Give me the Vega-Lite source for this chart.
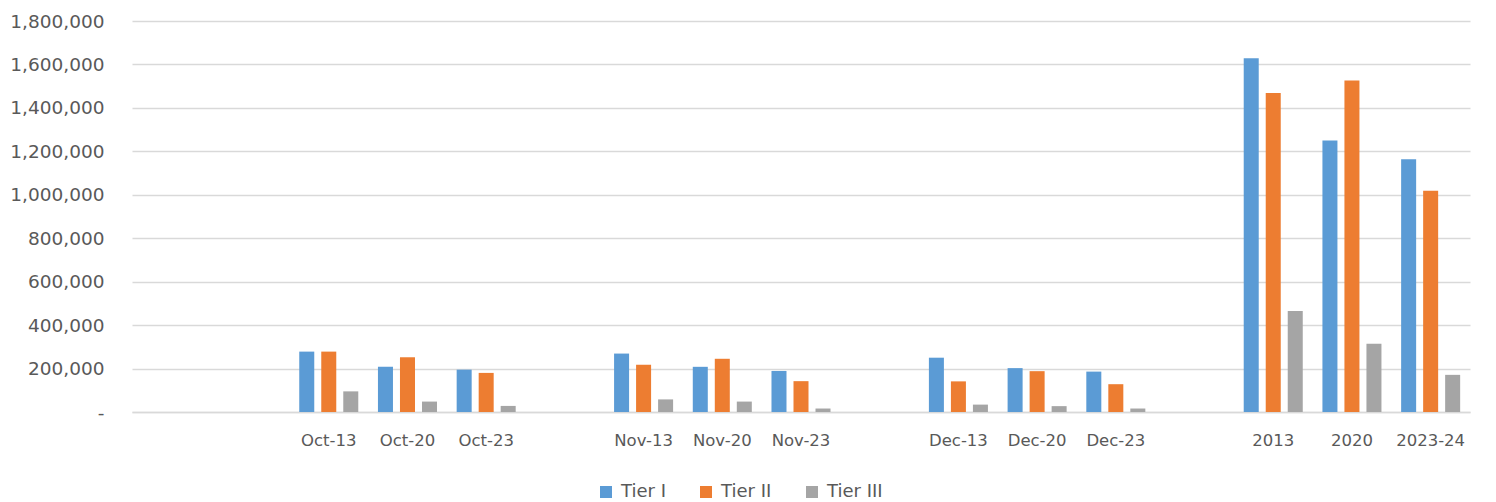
{
  "$schema": "https://vega.github.io/schema/vega-lite/v6.json",
  "width": 1338,
  "height": 391,
  "autosize": "none",
  "padding": {"left": 132, "top": 21, "right": 26, "bottom": 90},
  "background": "white",
  "config": {
    "view": {"stroke": null},
    "font": "DejaVu Sans",
    "axis": {"labelFont": "DejaVu Sans", "labelColor": "#595959"}
  },
  "data": {
    "values": [
      {"period": "Oct-13", "tier": "Tier I", "value": 278000},
      {"period": "Oct-13", "tier": "Tier II", "value": 278000},
      {"period": "Oct-13", "tier": "Tier III", "value": 95000},
      {"period": "Oct-20", "tier": "Tier I", "value": 208000},
      {"period": "Oct-20", "tier": "Tier II", "value": 252000},
      {"period": "Oct-20", "tier": "Tier III", "value": 48000},
      {"period": "Oct-23", "tier": "Tier I", "value": 195000},
      {"period": "Oct-23", "tier": "Tier II", "value": 180000},
      {"period": "Oct-23", "tier": "Tier III", "value": 28000},
      {"period": "Nov-13", "tier": "Tier I", "value": 269000},
      {"period": "Nov-13", "tier": "Tier II", "value": 217000},
      {"period": "Nov-13", "tier": "Tier III", "value": 58000},
      {"period": "Nov-20", "tier": "Tier I", "value": 208000},
      {"period": "Nov-20", "tier": "Tier II", "value": 245000},
      {"period": "Nov-20", "tier": "Tier III", "value": 48000},
      {"period": "Nov-23", "tier": "Tier I", "value": 189000},
      {"period": "Nov-23", "tier": "Tier II", "value": 142000},
      {"period": "Nov-23", "tier": "Tier III", "value": 16000},
      {"period": "Dec-13", "tier": "Tier I", "value": 250000},
      {"period": "Dec-13", "tier": "Tier II", "value": 141000},
      {"period": "Dec-13", "tier": "Tier III", "value": 34000},
      {"period": "Dec-20", "tier": "Tier I", "value": 202000},
      {"period": "Dec-20", "tier": "Tier II", "value": 188000},
      {"period": "Dec-20", "tier": "Tier III", "value": 27000},
      {"period": "Dec-23", "tier": "Tier I", "value": 186000},
      {"period": "Dec-23", "tier": "Tier II", "value": 128000},
      {"period": "Dec-23", "tier": "Tier III", "value": 16000},
      {"period": "2013", "tier": "Tier I", "value": 1628000},
      {"period": "2013", "tier": "Tier II", "value": 1469000},
      {"period": "2013", "tier": "Tier III", "value": 465000},
      {"period": "2020", "tier": "Tier I", "value": 1250000},
      {"period": "2020", "tier": "Tier II", "value": 1526000},
      {"period": "2020", "tier": "Tier III", "value": 314000},
      {"period": "2023-24", "tier": "Tier I", "value": 1164000},
      {"period": "2023-24", "tier": "Tier II", "value": 1018000},
      {"period": "2023-24", "tier": "Tier III", "value": 171000}
    ]
  },
  "mark": {"type": "bar"},
  "encoding": {
    "x": {
      "field": "period",
      "type": "nominal",
      "scale": {
        "domain": ["_1", "_2", "Oct-13", "Oct-20", "Oct-23", "_3", "Nov-13", "Nov-20", "Nov-23", "_4", "Dec-13", "Dec-20", "Dec-23", "_5", "2013", "2020", "2023-24"],
        "paddingInner": 0.25,
        "paddingOuter": 0.125
      },
      "axis": {
        "title": null,
        "labelAngle": 0,
        "labelFontSize": 16.5,
        "ticks": false,
        "labelPadding": 20,
        "domainColor": "#D9D9D9",
        "domainWidth": 1.5,
        "labelExpr": "indexof(datum.value, '_') == 0 ? '' : datum.value"
      }
    },
    "xOffset": {
      "field": "tier",
      "type": "nominal",
      "scale": {"paddingInner": 0.318, "paddingOuter": 0}
    },
    "y": {
      "field": "value",
      "type": "quantitative",
      "scale": {"domain": [0, 1800000], "nice": false},
      "axis": {
        "title": null,
        "values": [0, 200000, 400000, 600000, 800000, 1000000, 1200000, 1400000, 1600000, 1800000],
        "domain": false,
        "ticks": false,
        "labelFontSize": 18.5,
        "labelPadding": 28,
        "gridColor": "#D9D9D9",
        "gridWidth": 1.5,
        "labelExpr": "datum.value == 0 ? '-\u2003' : format(datum.value, ',')"
      }
    },
    "color": {
      "field": "tier",
      "type": "nominal",
      "scale": {"domain": ["Tier I", "Tier II", "Tier III"], "range": ["#5B9BD5", "#ED7D31", "#A5A5A5"]},
      "legend": {
        "title": null,
        "orient": "none",
        "legendX": 465,
        "legendY": 462,
        "padding": 0,
        "direction": "horizontal",
        "symbolType": "square",
        "symbolSize": 144,
        "symbolStrokeWidth": 0,
        "labelFont": "DejaVu Sans",
        "labelFontSize": 18,
        "labelColor": "#595959",
        "labelOffset": 6,
        "columnPadding": 31
      }
    }
  }
}
